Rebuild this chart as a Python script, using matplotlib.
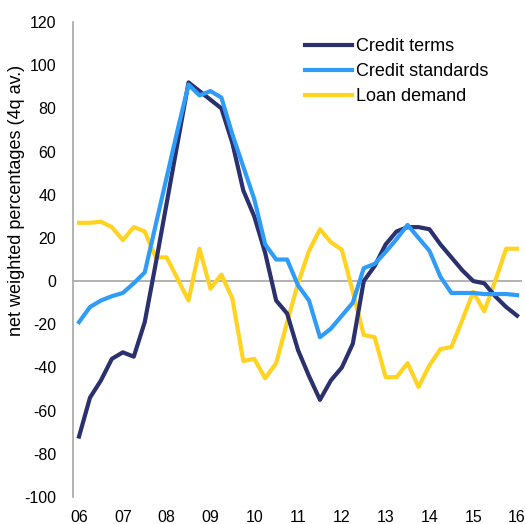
import matplotlib
matplotlib.use("Agg")
import matplotlib.pyplot as plt
import numpy as np

plt.rcParams['font.family'] = ['Liberation Sans', 'DejaVu Sans']
plt.rcParams['axes.unicode_minus'] = False

# quarterly, 2006Q1 .. 2016Q1
years = ['06', '07', '08', '09', '10', '11', '12', '13', '14', '15', '16']
credit_terms = [-72, -54, -46, -36, -33, -35, -19, 8, 36, 64, 92, 88, 84, 80, 64, 42,
                30, 13, -9, -15, -32, -44, -55, -46, -40, -29, 0, 7, 17, 23, 25, 25,
                24, 17, 11, 5, 0, -1, -7, -12, -16]
credit_standards = [-19, -12, -9, -7, -5.5, -1, 4, 26, 48, 70, 91, 86, 88, 85, 68, 53,
                    38, 17, 10, 10, -2, -9, -26, -22, -16, -10, 6, 8, 13.5, 19.5, 26, 20,
                    14, 2, -5.5, -5.5, -5.5, -6, -6, -6, -6.5]
loan_demand = [27, 27, 27.5, 25, 19, 25, 23, 11, 11, 1, -9, 15, -3.5, 3, -8, -37,
               -36, -45, -38, -19, -1, 14, 24, 18, 14.5, -5, -25, -26, -44.5, -44.5, -38, -49,
               -39, -31.5, -30.5, -18, -5, -14, 0, 15, 15]

x = np.arange(len(credit_terms))

fig = plt.figure(figsize=(5.26, 5.24), dpi=100)
ax = fig.add_axes([73/526, 1-497/524, 449/526, 475/524])

ax.axhline(0, color='#a6a6a6', lw=1.2, zorder=1)
ax.plot(x, credit_terms, color='#2b306e', lw=3, label='Credit terms', solid_joinstyle='round', zorder=3)
ax.plot(x, credit_standards, color='#2e9cf8', lw=3, label='Credit standards', solid_joinstyle='round', zorder=4)
ax.plot(x, loan_demand, color='#ffd320', lw=3, label='Loan demand', solid_joinstyle='round', zorder=2)

ax.set_ylim(-100, 120)
ax.set_yticks(range(-100, 121, 20))
ax.set_xlim(-0.55, 40.45)
ax.set_xticks(range(0, 41, 4))
ax.set_xticklabels(years)

for s in ['top', 'right', 'bottom']:
    ax.spines[s].set_visible(False)
ax.spines['left'].set_color('#a6a6a6')
ax.spines['left'].set_linewidth(1.2)
ax.tick_params(axis='both', length=0, labelsize=11.5, colors='black')
ax.tick_params(axis='y', pad=12)
ax.tick_params(axis='x', pad=9)

ax.set_ylabel('net weighted percentages (4q av.)', fontsize=13)
ax.yaxis.set_label_coords(-0.107, 0.625)

ax.legend(loc='upper left', bbox_to_anchor=(0.517, 0.966), frameon=False, fontsize=13,
          borderpad=0, borderaxespad=0, handlelength=2.6, handletextpad=0.2, labelspacing=0.45)

fig.savefig('out.png', dpi=100)
